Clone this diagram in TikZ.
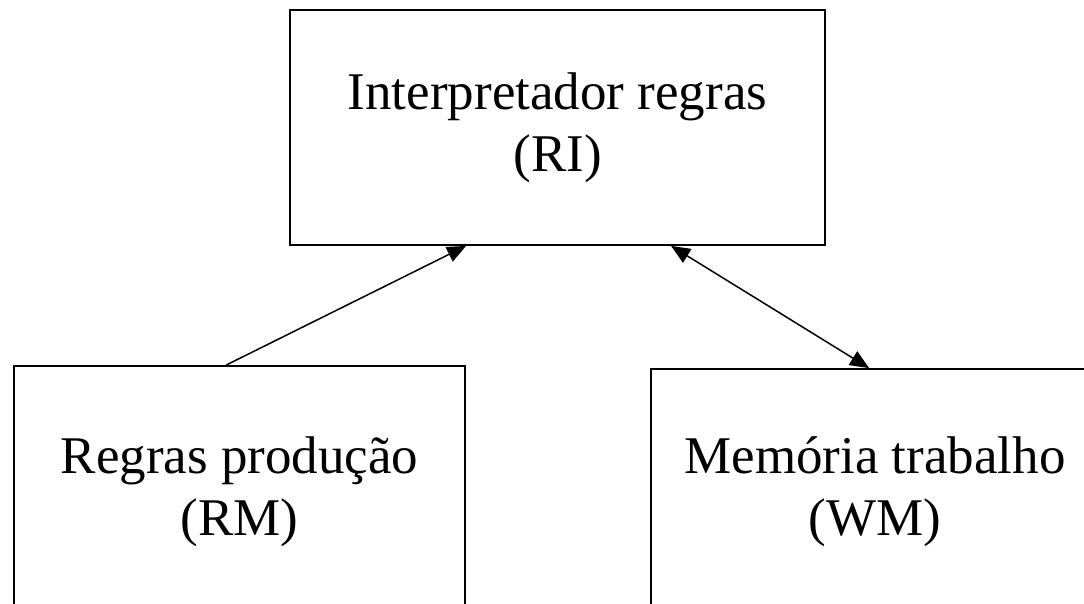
\documentclass[tikz,border=0pt]{standalone}
\usepackage{fontspec}
\setmainfont{Liberation Serif}
\usetikzlibrary{arrows.meta}
\begin{document}
\begin{tikzpicture}[x=1pt,y=-1pt,
  block/.style={draw,line width=1.8pt,rectangle,inner sep=0pt,align=center,
    font=\fontsize{53}{62}\selectfont},
  tip/.style={Triangle[length=19pt,width=16pt]},
  link/.style={line width=1.5pt,-{Triangle[length=19pt,width=16pt]}},
  link2/.style={line width=1.5pt,{Triangle[length=19pt,width=16pt]}-{Triangle[length=19pt,width=16pt]}}]
\useasboundingbox (0,0) rectangle (1084,603);
\clip (0,0) rectangle (1084,603);
% the three components
\node[block,minimum width=535pt,minimum height=235pt] (ri) at (557.5,127.5)
  {Interpretador regras\\(RI)};
\node[block,minimum width=451pt,minimum height=252pt] (rm) at (239.5,492)
  {Regras produção\\(RM)};
\node[block,minimum width=448pt,minimum height=246pt] (wm) at (875,492)
  {Memória trabalho\\(WM)};
% connections
\draw[link] ([xshift=213pt]rm.north west) -- ([xshift=177pt]ri.south west);
\draw[link2] ([xshift=382pt]ri.south west) -- ([xshift=219pt]wm.north west);
\end{tikzpicture}
\end{document}
